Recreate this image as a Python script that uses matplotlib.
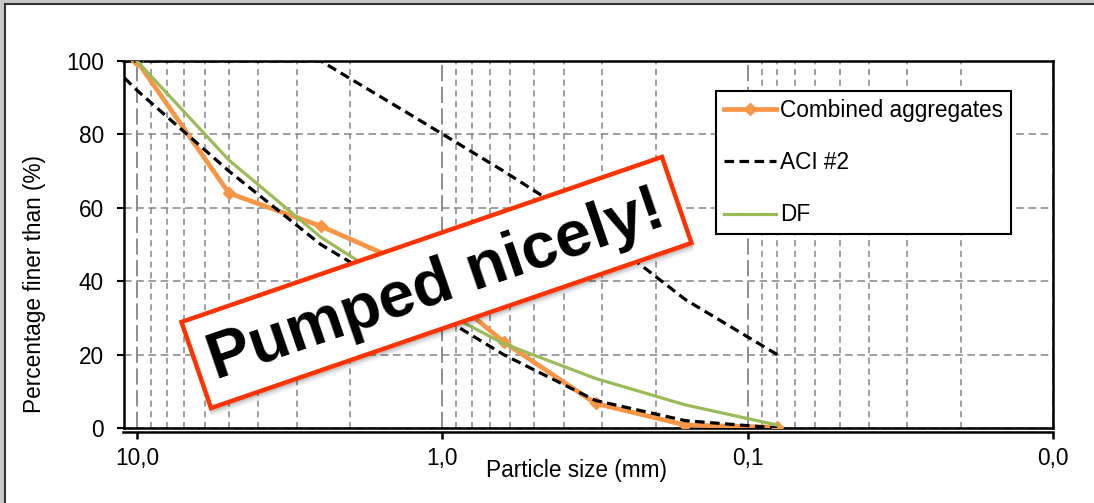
import numpy as np
import matplotlib.pyplot as plt
from matplotlib.patches import Rectangle
from matplotlib.transforms import Affine2D
from matplotlib.ticker import FixedLocator, FixedFormatter, NullFormatter

plt.rcParams['font.family'] = ['Liberation Sans', 'DejaVu Sans']

# sieve sizes (mm) and passing percentages
sizes = [10, 5, 2.5, 1.25, 0.63, 0.315, 0.16, 0.08]
combined = [100, 64, 55, 44, 23.5, 6.7, 0.8, 0.2]
df_curve = [100, 73, 52, 36, 23, 13.5, 6.3, 0.8]

# ACI #2 band: upper limit (fine -> coarse) then lower limit (coarse -> fine)
aci_size = [0.08, 0.16, 0.315, 0.63, 1.25, 2.5, 5, 10, 12.5,
            12.5, 10, 5, 2.5, 1.25, 0.63, 0.315, 0.16, 0.08]
aci_pct = [20, 35, 54, 70, 85, 100, 100, 100, 100,
           100, 92, 70, 50, 35, 20, 7.5, 2, 0]

xticks = [10, 1, 0.1, 0.01]
xtick_labels = ['10,0', '1,0', '0,1', '0,0']
yticks = [0, 20, 40, 60, 80, 100]

W, H = 1094, 503
fs = 16.3
fig = plt.figure(figsize=(W / 100, H / 100), dpi=100)

# background frame (screenshot border)
bg = fig.add_axes([0, 0, 1, 1], zorder=-10)
bg.set_xlim(0, W)
bg.set_ylim(H, 0)
bg.axis('off')
bg.add_patch(Rectangle((0, 0), W, H, fc='#c8c8c8', ec='none'))
bg.add_patch(Rectangle((4.5, 3.5), W + 10, H + 10, fc='white', ec='#333333', lw=1.5))

# main axes
L, R, T, B = 123.5, 1053, 61, 428
ax = fig.add_axes([L / W, 1 - B / H, (R - L) / W, (B - T) / H])
ax.set_xscale('log')

ax.plot(sizes, combined, color='#F79646', lw=3.4, marker='D', ms=6.5,
        label='Combined aggregates', zorder=3)
ax.plot(aci_size, aci_pct, color='black', lw=2.3, dashes=(3.0, 1.7),
        label='ACI #2', zorder=4)
ax.plot(sizes, df_curve, color='#9BBB59', lw=2.3, label='DF', zorder=5)

ax.set_xlim(11.07, 0.01)
ax.set_ylim(0, 100)

ax.xaxis.set_major_locator(FixedLocator(xticks))
ax.xaxis.set_major_formatter(FixedFormatter(xtick_labels))
minor = [m * d for d in [0.01, 0.1, 1] for m in range(2, 10)]
ax.xaxis.set_minor_locator(FixedLocator(minor))
ax.xaxis.set_minor_formatter(NullFormatter())
ax.set_yticks(yticks)

# gridlines
gc = '#858585'
ax.grid(True, which='minor', axis='x', color=gc, lw=1.1, dashes=(4, 3))
ax.grid(True, which='major', axis='x', color=gc, lw=1.3, dashes=(9, 3))
ax.grid(True, which='major', axis='y', color=gc, lw=1.1, dashes=(5, 3))
ax.set_axisbelow(True)

for s in ax.spines.values():
    s.set_linewidth(1.8)
    s.set_color('black')
ax.spines['bottom'].set_position(('outward', 3))
ax.axhline(0, color='black', lw=1.8, zorder=2, clip_on=False)

ax.tick_params(axis='x', which='minor', length=0)
ax.tick_params(axis='x', which='major', length=5, width=1.8, pad=6, labelsize=fs)
ax.tick_params(axis='y', length=5, width=1.5, pad=9, labelsize=fs)

fig.text(576 / W, 1 - 470 / H, 'Particle size (mm)', fontsize=fs,
         ha='center', va='center')
fig.text(35 / W, 1 - 284 / H, 'Percentage finer than (%)', fontsize=fs,
         ha='center', va='center', rotation=90)

leg = ax.legend(loc='upper left', bbox_to_anchor=(715.6 / W, 1 - 90.7 / H),
                bbox_transform=fig.transFigure, borderaxespad=0,
                fontsize=fs, fancybox=False, framealpha=1, edgecolor='black',
                labelspacing=1.3, handlelength=2.3, handletextpad=0.2,
                borderpad=0.35)
leg.get_frame().set_linewidth(1.5)

# "Pumped nicely!" banner on top
ov = fig.add_axes([0, 0, 1, 1], zorder=10)
ov.set_xlim(0, W)
ov.set_ylim(H, 0)
ov.axis('off')
ov.patch.set_alpha(0)

cx, cy, bw, bh, ang = 436.5, 282.5, 508, 91, 18.96
for off, a in [(8, 0.05), (6, 0.08), (4, 0.12)]:
    sh = Rectangle((cx - bw / 2 - 2, cy - bh / 2 + off), bw + 2, bh, fc='black',
                   ec='none', alpha=a,
                   transform=Affine2D().rotate_deg_around(cx, cy, -ang) + ov.transData)
    ov.add_patch(sh)
banner = Rectangle((cx - bw / 2, cy - bh / 2), bw, bh, fc='white', ec='#FF3300',
                   lw=3.2, transform=Affine2D().rotate_deg_around(cx, cy, -ang) + ov.transData)
ov.add_patch(banner)
ov.text(cx, cy + 3, 'Pumped nicely!', fontsize=46.5, fontweight='bold', color='black',
        ha='center', va='center', rotation=ang, rotation_mode='anchor')

fig.savefig('out.png', dpi=100)
